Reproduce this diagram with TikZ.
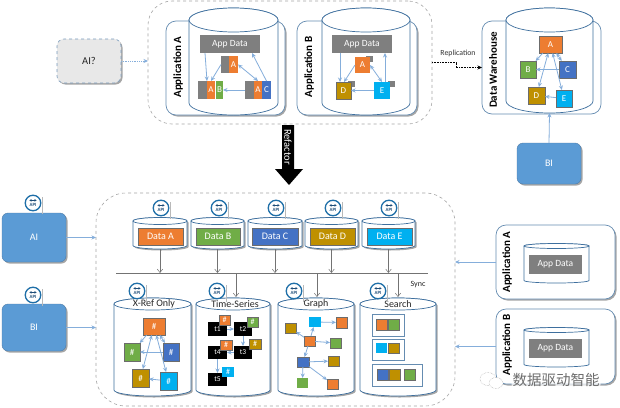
\documentclass[tikz,border=0pt]{standalone}
\usepackage{fontspec}
\setmainfont{Carlito}
\newfontfamily\cjkfont{Noto Sans CJK SC}
\usetikzlibrary{arrows.meta,shadows,calc}
\definecolor{cOr}{HTML}{ED7D31}
\definecolor{cGr}{HTML}{70AD47}
\definecolor{cBl}{HTML}{4472C4}
\definecolor{cGo}{HTML}{BF9000}
\definecolor{cCy}{HTML}{00B0F0}
\definecolor{cGy}{HTML}{7F7F7F}
\definecolor{cBox}{HTML}{5B9BD5}
\definecolor{cLine}{HTML}{3E6F9E}
\definecolor{cArr}{HTML}{85AEDB}
\definecolor{cBadge}{HTML}{1F6FA8}
\definecolor{cBadgeText}{HTML}{1F4E79}
\tikzset{
  softshadow/.style={drop shadow={shadow xshift=1.5pt,shadow yshift=-1.5pt,fill=black,opacity=.35}},
  basebox/.style={inner sep=0pt,outer sep=0pt,rectangle},
  tile/.style={basebox,text=white,font=\fontsize{9}{10}\selectfont},
  sq/.style={tile,fill=#1,draw=gray!85!black,line width=.7pt},
  sqplain/.style={tile,fill=#1},
  graytile/.style={tile,fill=cGy},
  appdata/.style={tile,fill=cGy,font=\fontsize{9.5}{11}\selectfont},
  datatile/.style={sq=#1,font=\fontsize{10}{11}\selectfont},
  blacktile/.style={tile,fill=black,font=\fontsize{7.5}{8}\selectfont},
  darea/.style={basebox,draw=gray!70,dashed,line width=.6pt,rounded corners=24pt},
  appbox/.style={basebox,draw=cLine!80,fill=white,line width=.7pt,rounded corners=10pt},
  toolbox/.style={basebox,draw=cLine!90,fill=cBox,rounded corners=6pt,text=white,font=\fontsize{10}{11}\selectfont,softshadow},
  cylst/.style={draw=cLine,fill=white,line width=.7pt},
  flow/.style={draw=cArr,line width=.8pt,-{Stealth[length=4.5pt,width=4pt]}},
  flowtwo/.style={draw=cArr,line width=.8pt,{Stealth[length=4.5pt,width=4pt]}-{Stealth[length=4.5pt,width=4pt]}},
  feed/.style={draw=gray!90!black,line width=.5pt,-{Straight Barb[length=3.5pt,width=5.5pt]}},
  applabel/.style={rotate=90,font=\bfseries\fontsize{11}{12}\selectfont,inner sep=0pt},
  cyltitle/.style={font=\fontsize{10}{11}\selectfont,inner sep=0pt,text=black!85},
  groupbox/.style={basebox,draw=cLine!80,line width=.7pt},
  badge/.style={circle,draw=cBadge,fill=white,line width=1.3pt,minimum size=15.5pt,inner sep=0pt},
  badgetext/.style={inner sep=0pt,text=cBadgeText,font=\bfseries\fontsize{4.8}{5}\selectfont},
  badgearrow/.style={draw=cBadgeText,line width=.9pt,{Stealth[length=2.2pt,width=2.6pt]}-{Stealth[length=2.2pt,width=2.6pt]}}
}
\newcommand{\bx}[7][]{%
  \pgfmathsetmacro\bxw{#5-#3}\pgfmathsetmacro\bxh{#6-#4}%
  \node[#1,minimum width=\bxw pt,minimum height=\bxh pt] (#2) at ({(#3+#5)/2},{(#4+#6)/2}) {#7};}
\newcommand{\cyl}[7][]{%
  \pgfmathsetmacro\cylr{(#4-#3)/2}\pgfmathsetmacro\cyls{#6-#7}\pgfmathsetmacro\cylx{(#3+#4)/2}%
  \draw[cylst,#1] (#3,#5) -- (#3,\cyls) arc[start angle=180,end angle=360,x radius=\cylr pt,y radius=#7pt] -- (#4,#5) arc[start angle=0,end angle=180,x radius=\cylr pt,y radius=#7pt] -- cycle;
  \draw[cylst] (\cylx,#5) ellipse[x radius=\cylr pt,y radius=#7pt];
  \coordinate (#2) at (\cylx,#6);}
\newcommand{\apibadge}[3]{%
  \draw[gray!55,line width=.9pt] (#2+9,#3-6) -- (#2+9,#3+11);
  \node[badge] (#1) at (#2,#3) {};
  \draw[badgearrow] (#2-3.6,#3-2.6) -- (#2+3.6,#3-2.6);
  \node[badgetext] (#1t) at (#2,#3+2.4) {API};}
\begin{document}
\begin{tikzpicture}[x=1pt,y=-1pt]
\useasboundingbox[fill=white] (0,0) rectangle (620,407);
% ---------- top: dashed area
\bx[darea]{toparea}{148}{1}{432}{124}{}
\bx[darea,draw=gray!70,fill=gray!18,rounded corners=7pt,text=black!85,font=\fontsize{10.5}{12}\selectfont,draw=cLine!70,softshadow]{aiq}{57}{39}{121}{83}{AI?}
\draw[flow,densely dotted] (aiq.east) -- (toparea.west |- aiq.east);
% Application A
\bx[appbox,softshadow]{appAbox}{166}{21}{285}{115}{}
\cyl{appAcyl}{189}{278}{20}{115}{12}
\node[applabel] (appAlab) at (178,67) {Application A};
\bx[appdata]{adA}{200}{35}{260}{53}{App Data}
\bx[graytile]{tg}{221}{56}{229}{73}{}
\bx[sqplain=cOr]{ta}{229}{56}{238}{73}{A}
\bx[graytile]{lg}{198}{81}{207}{99}{}
\bx[sqplain=cOr]{la}{207}{81}{215}{99}{A}
\bx[sqplain=cGr]{lb}{216}{81}{223}{99}{B}
\bx[graytile]{rg}{245}{81}{254}{99}{}
\bx[sqplain=cOr]{ra}{254}{81}{262}{99}{A}
\bx[sqplain=cBl]{rc}{262}{81}{271}{99}{C}
\draw[flow] ([xshift=5pt]adA.south west) -- (lg.north east);
\draw[flow] (tg.west) -- (la.north);
\draw[flowtwo] (ta.east) -- (ra.north);
\draw[flow] (rc.north) -- ([xshift=-8pt]adA.south east);
\draw[flow] (rg.west) -- (lb.east);
% Application B
\bx[appbox,softshadow]{appBbox}{297}{21}{417}{115}{}
\cyl{appBcyl}{322}{410}{20}{115}{12}
\node[applabel] (appBlab) at (309,67) {Application B};
\bx[appdata]{adB}{332}{35}{392}{53}{App Data}
\bx[graytile]{bac}{366}{56}{373}{62}{}
\bx[graytile]{bdc}{348}{81}{355}{87}{}
\bx[graytile]{bec}{388}{81}{395}{87}{}
\bx[sqplain=cOr]{ba}{355}{57}{370}{73}{A}
\bx[sqplain=cGo,draw=gray!85!black]{bd}{336}{82}{351}{99}{D}
\bx[sqplain=cCy]{be}{374}{82}{390}{99}{E}
\draw[flow] ([xshift=8pt]adB.south west) -- ([xshift=4pt]bd.north west);
\draw[flow] (ba.west) -- ([xshift=8pt]bd.north west);
\draw[flowtwo] (ba.east) -- (be.north);
\draw[flow] ([xshift=11pt]be.north west) -- ([xshift=-7pt]adB.south east);
\draw[flow] (be.west) -- (bd.east);
% Replication
\node[inner sep=0pt,font=\fontsize{7.8}{9}\selectfont,text=black!80] (repl) at (458,53) {Replication};
% Data warehouse
\bx[appbox]{whbox}{482}{21}{601}{114}{}
\cyl{whcyl}{506}{593}{20}{113}{12}
\node[applabel] (whlab) at (493,70) {Data Warehouse};
\bx[sq=cOr]{wa}{539}{36}{562}{53}{A}
\bx[sq=cGr]{wb}{520}{61}{536}{78}{B}
\bx[sq=cBl]{wc}{559}{61}{576}{78}{C}
\bx[sq=cGo]{wd}{528}{87}{545}{104}{D}
\bx[sq=cCy]{we}{556}{90}{572}{107}{E}
\draw[flow] (wa) -- (wb);
\draw[flowtwo] (wa) -- (wc);
\draw[flow] (wc) -- (wb);
\draw[flowtwo] (wa) -- (wd);
\draw[flowtwo] (wa) -- (we);
\draw[flow] (we) -- (wd);
\draw[black,line width=.6pt,densely dotted,-{Stealth[length=4.5pt,width=4pt]}] (toparea.east) -- ++(24,0) |- (whbox.west);
\bx[toolbox]{bitop}{517}{143}{581}{184}{BI}
\draw[flow] (bitop.north) -- (whcyl);
% Refactor arrow
\fill[black] (282,125) -- (294,125) -- (294,169) -- (303,169) -- (289,185) -- (275,169) -- (282,169) -- cycle;
\node[rotate=-90,text=white,inner sep=0pt,font=\fontsize{10.5}{11}\selectfont] (refac) at (288,147) {Refactor};
% ---------- bottom: dashed area
\bx[darea,rounded corners=30pt]{bigarea}{96}{193}{455}{406}{}
\bx[toolbox]{aibox}{2}{213}{66}{262}{AI}
\bx[toolbox]{bibox}{2}{304}{66}{351}{BI}
\apibadge{apiAI}{33}{203}
\apibadge{apiBI}{33}{295}
\draw[flow] (aibox.east) -- (aibox.east -| bigarea.west);
\draw[flow] (bibox.east) -- (bibox.east -| bigarea.west);
% data stores
\cyl[softshadow]{dAb}{133}{187}{221}{249}{3.5}
\cyl[softshadow]{dBb}{191}{244}{221}{249}{3.5}
\cyl[softshadow]{dCb}{248}{302}{221}{249}{3.5}
\cyl[softshadow]{dDb}{305}{358}{221}{249}{3.5}
\cyl[softshadow]{dEb}{362}{415}{221}{249}{3.5}
\bx[datatile=cOr]{dA}{138}{228}{183}{245}{Data A}
\bx[datatile=cGr]{dB}{196}{228}{240}{245}{Data B}
\bx[datatile=cBl]{dC}{252}{228}{298}{245}{Data C}
\bx[datatile=cGo]{dD}{310}{228}{355}{245}{Data D}
\bx[datatile=cCy]{dE}{367}{228}{412}{245}{Data E}
\apibadge{apiA}{161}{208}
\apibadge{apiB}{219}{208}
\apibadge{apiC}{276}{208}
\apibadge{apiD}{333}{208}
\apibadge{apiE}{389}{208}
% bus
\coordinate (busl) at (116,273);
\coordinate (busr) at (428,273);
\draw[gray!90!black,line width=.6pt] (busl) -- (busr);
\foreach \n in {dAb,dBb,dCb,dDb,dEb}{\draw[feed] (\n) -- (\n |- busl);}
\node[inner sep=0pt,font=\fontsize{8}{9}\selectfont,text=black!85] (sync) at (418,285) {Sync};
% lower stores
\cyl[softshadow]{xb}{114}{191}{304}{396}{6}
\cyl[softshadow]{tb}{196}{270}{304}{396}{6}
\cyl[softshadow]{gb}{278}{354}{304}{396}{6}
\cyl[softshadow]{sb}{360}{436}{304}{396}{6}
\coordinate (tin) at (236,297);
\coordinate (gin) at (317,297);
\coordinate (sin) at (398,297);
\foreach \n in {tin,gin,sin}{\draw[feed] (\n |- busl) -- (\n);}
\node[cyltitle] (xt) at (154,304) {X-Ref Only};
\node[cyltitle] (tt) at (235,304) {Time-Series};
\node[cyltitle] (gt) at (316,304) {Graph};
\node[cyltitle] (st) at (398,304) {Search};
\apibadge{apiX}{137}{291}
\apibadge{apiT}{217}{291}
\apibadge{apiG}{294}{291}
\apibadge{apiS}{378}{291}
% X-Ref
\bx[sq=cOr]{xa}{143}{318}{165}{335}{\#}
\bx[sq=cGr]{xg}{124}{343}{140}{361}{\#}
\bx[sq=cBl]{xc}{163}{343}{179}{361}{\#}
\bx[sq=cGo]{xd}{132}{369}{149}{387}{\#}
\bx[sq=cCy]{xe}{160}{372}{177}{390}{\#}
\draw[flow] (xa) -- (xg);
\draw[flowtwo] (xa) -- (xc);
\draw[flow] (xc) -- (xg);
\draw[flowtwo] (xa) -- (xd);
\draw[flowtwo] (xa) -- (xe);
\draw[flow] (xe) -- (xd);
% Time-series
\bx[blacktile]{t1}{208}{322}{227}{336}{t1}
\bx[blacktile]{t2}{234}{322}{252}{336}{t2}
\bx[blacktile]{t3}{234}{346}{252}{359}{t3}
\bx[blacktile]{t4}{208}{346}{227}{359}{t4}
\bx[blacktile]{t5}{208}{373}{227}{386}{t5}
\bx[sq=cOr,font=\fontsize{8}{9}\selectfont]{h1}{219}{315}{230}{325}{\#}
\bx[sq=cGr,font=\fontsize{8}{9}\selectfont]{h2}{247}{317}{258}{327}{\#}
\bx[sq=cGo,font=\fontsize{8}{9}\selectfont]{h3}{249}{339}{261}{349}{\#}
\bx[sq=cOr,font=\fontsize{8}{9}\selectfont]{h4}{220}{340}{232}{350}{\#}
\bx[sqplain=cCy,font=\fontsize{8}{9}\selectfont]{h5}{222}{367}{234}{377}{\#}
\draw[flow] (t1) -- (t2);
\draw[flow] (t2) -- (t3);
\draw[flow] (t3) -- (t4);
\draw[flow] (t4) -- (t5);
% Graph
\bx[sq=cGo]{g1}{285}{323}{296}{333}{}
\bx[sqplain=cCy]{g2}{309}{317}{321}{327}{}
\bx[sq=cOr]{g3}{336}{317}{347}{328}{}
\bx[sq=cOr]{g4}{304}{336}{315}{346}{}
\bx[sq=cGr]{g5}{330}{338}{341}{348}{}
\bx[sq=cBl]{g6}{297}{357}{309}{367}{}
\bx[sq=cGo]{g7}{328}{356}{339}{366}{}
\bx[sqplain=cGr]{g8}{297}{378}{308}{388}{}
\bx[sq=cOr]{g9}{327}{379}{338}{389}{}
\draw[flow] (g2) -- (g3);
\draw[flow] (g4) -- (g2);
\draw[flow] (g4) -- (g1);
\draw[flow] (g4) -- (g5);
\draw[flow] (g4) -- (g6);
\draw[flow] (g6) -- (g7);
\draw[flow] (g6) -- (g8);
\draw[flow] (g6) -- (g9);
% Search
\bx[groupbox]{s1}{372}{314}{404}{336}{}
\bx[groupbox]{s2}{372}{339}{404}{360}{}
\bx[groupbox]{s3}{372}{364}{422}{386}{}
\bx[sq=cOr]{s1a}{376}{319}{387}{330}{}
\bx[sq=cGr]{s1b}{388}{319}{399}{330}{}
\bx[sqplain=cCy]{s2a}{376}{343}{387}{353}{}
\bx[sq=cGo]{s2b}{388}{343}{399}{353}{}
\bx[sq=cBl]{s3a}{377}{369}{388}{380}{}
\bx[sq=cGo]{s3b}{389}{369}{400}{380}{}
\bx[sq=cGr]{s3c}{404}{369}{415}{380}{}
% right applications
\bx[appbox,softshadow]{rAbox}{496}{225}{615}{299}{}
\bx[appbox,softshadow]{rBbox}{496}{309}{615}{384}{}
\cyl{rAcyl}{524}{589}{246}{283}{2.5}
\cyl{rBcyl}{524}{589}{330}{367}{2.5}
\bx[appdata]{rAd}{529}{255}{582}{274}{App Data}
\bx[appdata]{rBd}{529}{339}{582}{358}{App Data}
\node[applabel] (rAlab) at (507,262) {Application A};
\node[applabel] (rBlab) at (507,345) {Application B};
\draw[flow] (rAbox.west) -- (rAbox.west -| bigarea.east);
\draw[flow] (rBbox.west) -- (rBbox.west -| bigarea.east);
% watermark
\draw[gray!70,densely dotted,fill=white,line width=.5pt] (488,379) ellipse[x radius=8pt,y radius=6.5pt];
\draw[gray!70,densely dotted,fill=white,line width=.5pt] (496,383) ellipse[x radius=7pt,y radius=5.5pt];
\node[inner sep=1pt,rounded corners=3pt,fill=white,fill opacity=.7,text opacity=1,text=gray!85!black,font=\cjkfont\fontsize{14.5}{16}\selectfont] (wm) at (556,380) {数据驱动智能};
\end{tikzpicture}
\end{document}
